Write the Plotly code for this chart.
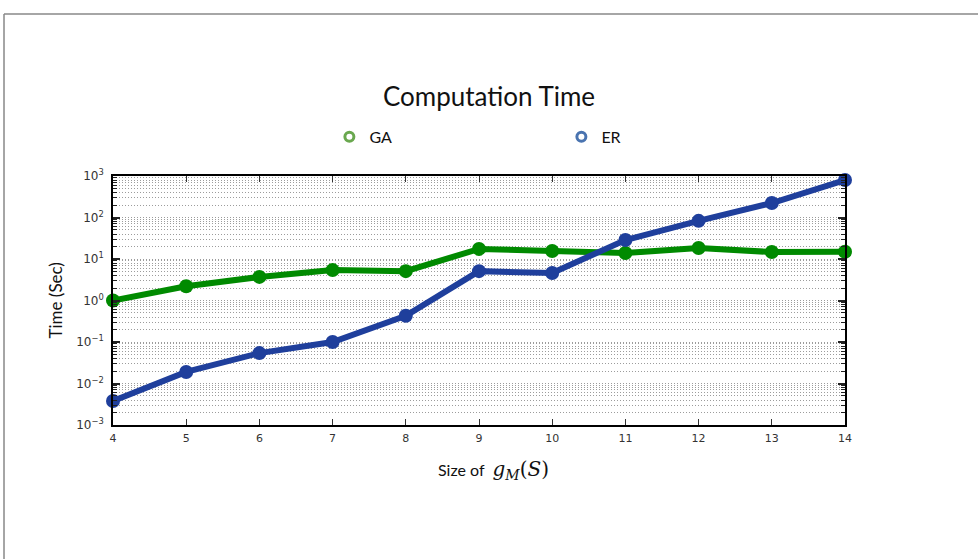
import plotly.graph_objects as go

# Problem size (x) and measured running times in seconds
sizes = [4, 5, 6, 7, 8, 9, 10, 11, 12, 13, 14]
ga_time = [1.0, 2.2, 3.7, 5.4, 5.1, 17.5, 15.6, 13.9, 18.4, 14.7, 15.0]
er_time = [0.0038, 0.019, 0.054, 0.10, 0.43, 5.1, 4.6, 28.7, 83, 223, 800]

# Decade tick positions and their labels
y_tickvals = [1e-3, 1e-2, 1e-1, 1e0, 1e1, 1e2, 1e3]
y_ticktext = ["10<sup>−3</sup>", "10<sup>−2</sup>", "10<sup>−1</sup>", "10<sup>0</sup>",
              "10<sup>1</sup>", "10<sup>2</sup>", "10<sup>3</sup>"]
# Minor ticks at 2..9 within each decade
y_minorvals = [d * m for d in y_tickvals[:-1] for m in range(2, 10)]

GA_LINE = "#008a00"
ER_LINE = "#1f3f9c"
GA_LEGEND = "#6aa84f"
ER_LEGEND = "#4a74b0"
GRID = "#9c9c9c"

fig = go.Figure()

fig.add_trace(go.Scatter(
    x=sizes, y=ga_time, mode="lines+markers", name="GA", showlegend=False,
    line=dict(color=GA_LINE, width=6), marker=dict(color=GA_LINE, size=14),
    cliponaxis=False,
))
fig.add_trace(go.Scatter(
    x=sizes, y=er_time, mode="lines+markers", name="ER", showlegend=False,
    line=dict(color=ER_LINE, width=6), marker=dict(color=ER_LINE, size=14),
    cliponaxis=False,
))

# Legend entries: open-circle symbols only
fig.add_trace(go.Scatter(
    x=[None], y=[None], mode="markers", name="GA",
    marker=dict(symbol="circle-open", color=GA_LEGEND, size=9, line=dict(width=3)),
))
fig.add_trace(go.Scatter(
    x=[None], y=[None], mode="markers", name="ER",
    marker=dict(symbol="circle-open", color=ER_LEGEND, size=9, line=dict(width=3)),
))

fig.update_layout(
    width=978, height=559,
    margin=dict(l=113, r=133, t=176, b=134),
    paper_bgcolor="white", plot_bgcolor="white",
    font=dict(family="DejaVu Sans", color="#222"),
    title=dict(text="Computation Time", x=0.5, xanchor="center", y=1 - 97 / 559,
               yanchor="middle", font=dict(family="Lato", size=26, color="#111")),
    legend=dict(orientation="h", x=0.2956, xanchor="left", y=1.157, yanchor="middle",
                entrywidth=187, entrywidthmode="pixels",
                font=dict(family="Lato", size=16, color="#111"),
                bgcolor="rgba(0,0,0,0)"),
    xaxis=dict(
        range=[4, 14], tickvals=sizes, ticks="inside", ticklen=6, tickwidth=1,
        tickcolor="#333", showline=True, linecolor="black", linewidth=1.5,
        mirror="ticks", showgrid=False, zeroline=False, ticklabelstandoff=2,
        tickfont=dict(size=11, color="#333"),
    ),
    yaxis=dict(
        type="log", range=[-3, 3], tickvals=y_tickvals, ticktext=y_ticktext,
        ticks="inside", ticklen=7, tickwidth=1.5, tickcolor="#222",
        showline=True, linecolor="black", linewidth=1.5, mirror="ticks",
        showgrid=True, gridcolor=GRID, griddash="1px,2px", gridwidth=1,
        zeroline=False, ticklabelstandoff=5, tickfont=dict(size=12, color="#333"),
        minor=dict(tickmode="array", tickvals=y_minorvals, ticks="inside",
                   ticklen=4, tickwidth=1, tickcolor="#222",
                   showgrid=True, gridcolor=GRID, griddash="1px,2px", gridwidth=1),
    ),
    annotations=[
        dict(text="Time (Sec)", xref="paper", yref="paper", x=-0.0792, y=0.5,
             textangle=-90, showarrow=False, xanchor="center", yanchor="middle",
             font=dict(family="Lato", size=17, color="#111")),
        dict(text="Size of  <span style='font-family:DejaVu Serif;font-size:20px'>"
                  "<i>g</i><sub><i>M</i></sub>(<i>S</i>)</span>",
             xref="paper", yref="paper", x=0.52, y=-0.18, showarrow=False,
             xanchor="center", yanchor="middle",
             font=dict(family="Lato", size=16, color="#111")),
    ],
    shapes=[
        # thin frame around the figure panel
        dict(type="line", xref="paper", yref="paper", x0=-0.1489, x1=-0.1489,
             y0=-0.6, y1=1.6506, line=dict(color="#888", width=1.5)),
        dict(type="line", xref="paper", yref="paper", x0=-0.1489, x1=1.2,
             y0=1.6506, y1=1.6506, line=dict(color="#888", width=1.5)),
    ],
)

fig.write_html("out.html")
